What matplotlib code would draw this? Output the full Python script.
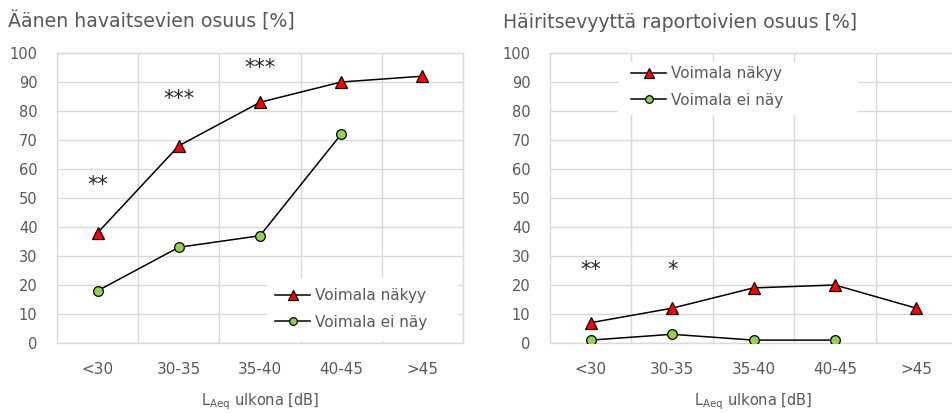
import matplotlib
matplotlib.use("Agg")
import matplotlib.pyplot as plt
from matplotlib.lines import Line2D
from matplotlib.patches import Rectangle

plt.rcParams['font.family'] = ['DejaVu Sans']
plt.rcParams['mathtext.fontset'] = 'dejavusans'

categories = ["<30", "30-35", "35-40", "40-45", ">45"]

left_visible = [38, 68, 83, 90, 92]
left_not_visible = [18, 33, 37, 72]
left_stars = [("**", 0, 54.5), ("***", 1, 84), ("***", 2, 95)]

right_visible = [7, 12, 19, 20, 12]
right_not_visible = [1, 3, 1, 1]
right_stars = [("**", 0, 25), ("*", 1, 25)]

titles = ["Äänen havaitsevien osuus [%]", "Häiritsevyyttä raportoivien osuus [%]"]
series_names = ["Voimala näkyy", "Voimala ei näy"]
xlabel = r"$\mathregular{L_{Aeq}}$ ulkona [dB]"

GRAY = "#595959"
GRID = "#D9D9D9"
RED = "#FF0000"
GREEN = "#92D050"

W, H = 952, 413
fig = plt.figure(figsize=(W / 100, H / 100), dpi=100)

def make_axes(x0, x1, y_top=53, y_bot=343):
    return fig.add_axes([x0 / W, (H - y_bot) / H, (x1 - x0) / W, (y_bot - y_top) / H])

ax1 = make_axes(57, 463)
ax2 = make_axes(550, 957)

def style(ax, vis, notvis, stars):
    x = list(range(len(categories)))
    ax.plot(x[:len(vis)], vis, color="black", lw=1.1, marker="^", ms=8.5,
            mfc=RED, mec="black", mew=0.9, zorder=3)
    ax.plot(x[:len(notvis)], notvis, color="black", lw=1.1, marker="o", ms=7,
            mfc=GREEN, mec="black", mew=0.9, zorder=3)
    ax.set_xlim(-0.5, len(categories) - 0.5)
    ax.set_ylim(0, 100)
    ax.set_yticks(range(0, 101, 10))
    ax.set_xticks(x)
    ax.set_xticklabels(categories)
    ax.set_xticks([i + 0.5 for i in range(len(categories) - 1)], minor=True)
    ax.grid(True, which="minor", axis="x", color=GRID, lw=1)
    ax.grid(True, which="major", axis="y", color=GRID, lw=1)
    ax.set_axisbelow(True)
    for s in ax.spines.values():
        s.set_color(GRID)
        s.set_linewidth(1)
    ax.tick_params(axis="both", which="both", length=0, colors=GRAY, labelsize=10.5)
    ax.tick_params(axis="x", pad=14, labelsize=11)
    ax.tick_params(axis="y", pad=14)
    ax.set_xlabel(xlabel, color=GRAY, fontsize=10.5, labelpad=10)
    for txt, xi, yv in stars:
        ax.text(xi, yv, txt, ha="center", va="center", fontsize=15, color="#262626")

style(ax1, left_visible, left_not_visible, left_stars)
style(ax2, right_visible, right_not_visible, right_stars)

handles = [
    Line2D([], [], color="black", lw=1.1, marker="^", ms=6.5, mfc=RED, mec="black", mew=0.9),
    Line2D([], [], color="black", lw=1.1, marker="o", ms=5.5, mfc=GREEN, mec="black", mew=0.9),
]

def add_legend(ax, box, anchor):
    x0, y0, x1, y1 = box
    ax.add_patch(Rectangle((x0 / W, (H - y1) / H), (x1 - x0) / W, (y1 - y0) / H,
                           transform=fig.transFigure, facecolor="white",
                           edgecolor="none", zorder=4, clip_on=False))
    ax_, ay_ = anchor
    leg = ax.legend(handles, series_names, loc="center left",
                    bbox_to_anchor=(ax_ / W, (H - ay_) / H),
                    bbox_transform=fig.transFigure, frameon=False,
                    fontsize=11, handlelength=2.3, handletextpad=0.3,
                    labelspacing=0.75, borderpad=0, borderaxespad=0)
    for t in leg.get_texts():
        t.set_color(GRAY)
    leg.set_zorder(5)

add_legend(ax1, (267, 278, 458, 341), (275, 309))
add_legend(ax2, (618, 62, 858, 115), (631, 87))

fig.text(8 / W, 1 - 21 / H, titles[0], ha="left", va="center", color=GRAY, fontsize=13.6)
fig.text(503 / W, 1 - 23 / H, titles[1], ha="left", va="center", color=GRAY, fontsize=13.6)

fig.savefig("out.png", dpi=100, facecolor="white")
